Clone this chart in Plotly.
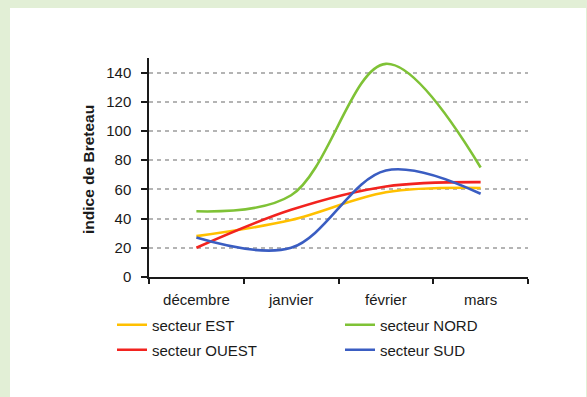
import plotly.graph_objects as go

# Categories (months) and the Breteau index for each sector
mois = ["décembre", "janvier", "février", "mars"]
est = [28, 39, 58, 61]
nord = [45, 56, 146, 75]
ouest = [20, 46, 62, 65]
sud = [27, 20, 73, 57]

y_ticks = [0, 20, 40, 60, 80, 100, 120, 140]

W, H = 587, 397
FONT = "Liberation Sans, Arial, sans-serif"
INK = "#1a1a1a"

# plot area in pixels
L, R, T, B = 149, 528, 58, 277
PW, PH = R - L, B - T

# name, values, colour, legend slot, (legend x, legend y) in pixels
series = [
    ("secteur EST", est, "#FFC000", "legend", (112, 325)),
    ("secteur NORD", nord, "#7FC236", "legend2", (340, 325)),
    ("secteur OUEST", ouest, "#F2231F", "legend3", (112, 350)),
    ("secteur SUD", sud, "#3A5DC2", "legend4", (340, 350)),
]

x_pos = list(range(len(mois)))

fig = go.Figure()
legends = {}
for name, vals, color, leg, (lx, ly) in series:
    fig.add_trace(go.Scatter(
        x=x_pos, y=vals, name=name, mode="lines",
        line=dict(color=color, width=2.6, shape="spline", smoothing=1.0),
        legend=leg,
    ))
    legends[leg] = dict(
        orientation="h", xref="container", yref="container",
        x=lx / W, y=1 - ly / H, xanchor="left", yanchor="middle",
        font=dict(family=FONT, size=15, color=INK),
        bgcolor="rgba(0,0,0,0)", borderwidth=0, itemwidth=30,
    )

fig.update_layout(
    width=W, height=H,
    margin=dict(l=L, r=W - R, t=T, b=H - B, autoexpand=False),
    paper_bgcolor="#E2EFD6",
    plot_bgcolor="rgba(0,0,0,0)",
    font=dict(family=FONT, size=15, color=INK),
    showlegend=True,
    **legends,
    xaxis=dict(
        range=[-0.5, 3.5], tickvals=x_pos, ticktext=mois,
        ticks="", showgrid=False, zeroline=False,
        showline=True, linecolor=INK, linewidth=1.5,
        tickfont=dict(family=FONT, size=15, color=INK),
        ticklabelstandoff=8,
        minor=dict(tickvals=[-0.5, 0.5, 1.5, 2.5, 3.5], ticks="outside",
                   ticklen=5, tickwidth=1.5, tickcolor=INK, showgrid=False),
        fixedrange=True,
    ),
    yaxis=dict(
        range=[0, 150], tickvals=y_ticks,
        ticks="outside", ticklen=6, tickwidth=1.5, tickcolor=INK,
        showline=True, linecolor=INK, linewidth=1.5,
        showgrid=True, gridcolor="#B4B4B4", gridwidth=1.5, griddash="4px,4px",
        zeroline=False,
        tickfont=dict(family=FONT, size=15, color=INK),
        ticklabelstandoff=7,
        fixedrange=True,
    ),
    shapes=[dict(
        type="rect", xref="paper", yref="paper", layer="below",
        x0=(10 - L) / PW, x1=(586 - L) / PW,
        y0=(B - H) / PH, y1=(B - 8) / PH,
        fillcolor="white", line=dict(width=0),
    )],
    annotations=[dict(
        text="<b>indice de Breteau</b>", textangle=-90,
        xref="paper", yref="paper",
        x=(88 - L) / PW, y=(B - 170) / PH,
        xanchor="center", yanchor="middle", showarrow=False,
        font=dict(family=FONT, size=15.5, color=INK),
    )],
)

fig.write_html("out.html")
